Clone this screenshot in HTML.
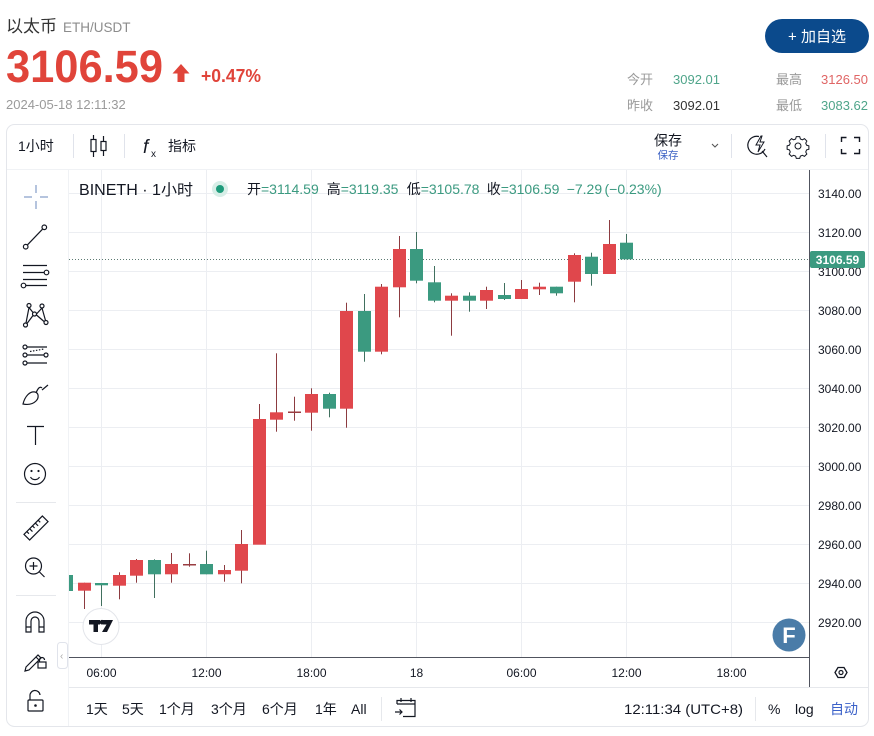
<!DOCTYPE html>
<html><head><meta charset="utf-8">
<style>
html,body{margin:0;padding:0;background:#fff;width:874px;height:736px;overflow:hidden}
svg{display:block}
text{font-family:"Liberation Sans","Noto Sans CJK SC",sans-serif}
</style></head>
<body>
<svg width="874" height="736" viewBox="0 0 874 736" xmlns="http://www.w3.org/2000/svg">
<defs>
<clipPath id="pane"><rect x="69" y="170" width="740" height="487"/></clipPath>
</defs>

<!-- Header -->
<text x="6" y="32" font-size="17" fill="#333">以太币</text>
<text x="63" y="32" font-size="13.5" fill="#8c8c8c">ETH/USDT</text>
<text x="6" y="82" font-size="45" font-weight="bold" fill="#e0443a" textLength="157" lengthAdjust="spacingAndGlyphs">3106.59</text>
<polygon points="172.5,73.5 181,64 189.5,73.5 184.5,73.5 184.5,82 177.5,82 177.5,73.5" fill="#e0443a"/>
<text x="201" y="82" font-size="18" font-weight="bold" fill="#e0443a" textLength="60" lengthAdjust="spacingAndGlyphs">+0.47%</text>
<text x="6" y="109" font-size="13" fill="#9a9a9a">2024-05-18 12:11:32</text>

<rect x="765" y="19" width="104" height="34" rx="17" fill="#0b4a8c"/>
<text x="817" y="41.5" font-size="15" fill="#fff" text-anchor="middle">+ 加自选</text>

<text x="627" y="84" font-size="13" fill="#9a9a9a">今开</text>
<text x="673" y="84" font-size="13" fill="#4fa58a" textLength="47" lengthAdjust="spacingAndGlyphs">3092.01</text>
<text x="776" y="84" font-size="13" fill="#9a9a9a">最高</text>
<text x="821" y="84" font-size="13" fill="#e06565" textLength="47" lengthAdjust="spacingAndGlyphs">3126.50</text>
<text x="627" y="110" font-size="13" fill="#9a9a9a">昨收</text>
<text x="673" y="110" font-size="13" fill="#333" textLength="47" lengthAdjust="spacingAndGlyphs">3092.01</text>
<text x="776" y="110" font-size="13" fill="#9a9a9a">最低</text>
<text x="821" y="110" font-size="13" fill="#4fa58a" textLength="47" lengthAdjust="spacingAndGlyphs">3083.62</text>

<!-- Container -->
<rect x="6.5" y="124.5" width="862" height="602" rx="8" fill="#fff" stroke="#e4e6eb"/>

<!-- Top toolbar -->
<text x="18" y="151" font-size="14" fill="#131722">1小时</text>
<line x1="73.5" y1="134" x2="73.5" y2="158" stroke="#e0e3eb"/>
<g stroke="#131722" fill="none" stroke-width="1.2">
  <line x1="93.5" y1="135" x2="93.5" y2="157"/>
  <rect x="91" y="139.5" width="5" height="12" fill="#fff"/>
  <line x1="103.5" y1="136" x2="103.5" y2="156"/>
  <rect x="101" y="141.5" width="5" height="9" fill="#fff"/>
</g>
<line x1="124.5" y1="134" x2="124.5" y2="158" stroke="#e0e3eb"/>
<text x="143" y="153" font-size="19" fill="#131722" font-style="italic" font-family="Liberation Serif, serif">f</text>
<text x="151" y="157" font-size="10" fill="#131722">x</text>
<text x="168" y="151" font-size="14" fill="#131722">指标</text>

<text x="668" y="145.5" font-size="14" fill="#131722" text-anchor="middle">保存</text>
<text x="668" y="158.5" font-size="10.5" fill="#3d62c4" text-anchor="middle">保存</text>
<polyline points="712,144 715,147 718,144" fill="none" stroke="#555" stroke-width="1.1"/>
<line x1="731.5" y1="134" x2="731.5" y2="158" stroke="#e0e3eb"/>
<g fill="none" stroke="#131722" stroke-width="1.2">
  <path d="M759,136.5 A9,9 0 1 0 765,149"/>
  <polygon points="761,136 756,145 760,145 758,152 764,142 760,142 762,136" stroke-width="1"/>
  <line x1="762" y1="151" x2="767" y2="157"/>
</g>
<g fill="none" stroke="#131722" stroke-width="1.2" transform="translate(798 146) scale(0.85) translate(-798 -146)">
  <path d="M796,135 h4 l0.8,2.7 l2.4,1 l2.4,-1.3 l2.8,2.8 l-1.3,2.4 l1,2.4 l2.7,0.8 v4 l-2.7,0.8 l-1,2.4 l1.3,2.4 l-2.8,2.8 l-2.4,-1.3 l-2.4,1 l-0.8,2.7 h-4 l-0.8,-2.7 l-2.4,-1 l-2.4,1.3 l-2.8,-2.8 l1.3,-2.4 l-1,-2.4 l-2.7,-0.8 v-4 l2.7,-0.8 l1,-2.4 l-1.3,-2.4 l2.8,-2.8 l2.4,1.3 l2.4,-1 z"/>
  <circle cx="798" cy="146" r="3.5"/>
</g>
<line x1="825.5" y1="134" x2="825.5" y2="158" stroke="#e0e3eb"/>
<g fill="none" stroke="#131722" stroke-width="1.4">
  <path d="M841.5,142 v-4.5 h5"/><path d="M854,137.5 h5.5 v4.5"/>
  <path d="M841.5,149 v4.5 h5"/><path d="M854,153.5 h5.5 v-4.5"/>
</g>

<!-- pane separators -->
<line x1="7" y1="169.5" x2="868" y2="169.5" stroke="#f0f2f5"/>
<line x1="68.5" y1="170" x2="68.5" y2="726" stroke="#f0f2f5"/>

<!-- Grid -->
<g stroke="#eceef2" stroke-width="1">
  <line x1="69" y1="193.5" x2="809" y2="193.5"/>
  <line x1="69" y1="232.5" x2="809" y2="232.5"/>
  <line x1="69" y1="271.5" x2="809" y2="271.5"/>
  <line x1="69" y1="310.5" x2="809" y2="310.5"/>
  <line x1="69" y1="349.5" x2="809" y2="349.5"/>
  <line x1="69" y1="388.5" x2="809" y2="388.5"/>
  <line x1="69" y1="427.5" x2="809" y2="427.5"/>
  <line x1="69" y1="466.5" x2="809" y2="466.5"/>
  <line x1="69" y1="505.5" x2="809" y2="505.5"/>
  <line x1="69" y1="544.5" x2="809" y2="544.5"/>
  <line x1="69" y1="583.5" x2="809" y2="583.5"/>
  <line x1="69" y1="622.5" x2="809" y2="622.5"/>
  <line x1="101.5" y1="170" x2="101.5" y2="657"/>
  <line x1="206.5" y1="170" x2="206.5" y2="657"/>
  <line x1="311.5" y1="170" x2="311.5" y2="657"/>
  <line x1="416.5" y1="170" x2="416.5" y2="657"/>
  <line x1="521.5" y1="170" x2="521.5" y2="657"/>
  <line x1="626.5" y1="170" x2="626.5" y2="657"/>
  <line x1="731.5" y1="170" x2="731.5" y2="657"/>
</g>

<!-- current price line -->
<line x1="69" y1="259.5" x2="809" y2="259.5" stroke="#5d7a72" stroke-dasharray="1,2"/>

<!-- Candles -->
<g clip-path="url(#pane)">
<g fill="#8c3b40">
  <rect x="84" y="582.7" width="1" height="26.3"/>
  <rect x="119" y="572.3" width="1" height="27"/>
  <rect x="136" y="559" width="1" height="23.7"/>
  <rect x="171" y="553" width="1" height="29.7"/>
  <rect x="189" y="553.3" width="1" height="13.4"/>
  <rect x="224" y="565" width="1" height="16.7"/>
  <rect x="241" y="530" width="1" height="53.3"/>
  <rect x="259" y="404" width="1" height="140"/>
  <rect x="276" y="353.3" width="1" height="78.4"/>
  <rect x="294" y="396.7" width="1" height="24"/>
  <rect x="311" y="388.3" width="1" height="42.4"/>
  <rect x="346" y="302.7" width="1" height="125"/>
  <rect x="381" y="284" width="1" height="70.3"/>
  <rect x="399" y="236" width="1" height="81.3"/>
  <rect x="451" y="293.3" width="1" height="42.4"/>
  <rect x="486" y="286.7" width="1" height="22.3"/>
  <rect x="521" y="280" width="1" height="19"/>
  <rect x="539" y="282.7" width="1" height="12.3"/>
  <rect x="574" y="253.3" width="1" height="49"/>
  <rect x="609" y="220" width="1" height="54"/>
</g>
<g fill="#41705f">
  <rect x="101" y="583" width="1" height="23"/>
  <rect x="154" y="559.3" width="1" height="38.7"/>
  <rect x="206" y="550.7" width="1" height="23.6"/>
  <rect x="329" y="392.7" width="1" height="24.6"/>
  <rect x="364" y="294" width="1" height="67.7"/>
  <rect x="416" y="232" width="1" height="51.3"/>
  <rect x="434" y="266" width="1" height="36.3"/>
  <rect x="469" y="292.3" width="1" height="19.4"/>
  <rect x="504" y="283" width="1" height="17"/>
  <rect x="556" y="286.7" width="1" height="9"/>
  <rect x="591" y="252.7" width="1" height="33"/>
  <rect x="626" y="234" width="1" height="25.3"/>
</g>
<g fill="#e0474c">
  <rect x="78" y="582.7" width="13" height="8"/>
  <rect x="113" y="575" width="13" height="10.7"/>
  <rect x="130" y="560" width="13" height="15.7"/>
  <rect x="165" y="564" width="13" height="10.3"/>
  <rect x="183" y="564" width="13" height="1.5" fill="#9a3d42"/>
  <rect x="218" y="570" width="13" height="4.3"/>
  <rect x="235" y="544" width="13" height="26.7"/>
  <rect x="253" y="419" width="13" height="125.7"/>
  <rect x="270" y="412.3" width="13" height="7.4"/>
  <rect x="288" y="411.5" width="13" height="1.5" fill="#9a3d42"/>
  <rect x="305" y="394" width="13" height="18.7"/>
  <rect x="340" y="311" width="13" height="97.7"/>
  <rect x="375" y="286.7" width="13" height="65"/>
  <rect x="393" y="249" width="13" height="38.3"/>
  <rect x="445" y="295.7" width="13" height="5"/>
  <rect x="480" y="290" width="13" height="10.7"/>
  <rect x="515" y="289" width="13" height="10"/>
  <rect x="533" y="286.7" width="13" height="2.6"/>
  <rect x="568" y="255" width="13" height="26.7"/>
  <rect x="603" y="244" width="13" height="30"/>
</g>
<g fill="#3b9a80">
  <rect x="60" y="575" width="13" height="16"/>
  <rect x="95" y="583" width="13" height="2.3"/>
  <rect x="148" y="560" width="13" height="14.3"/>
  <rect x="200" y="564" width="13" height="10.3"/>
  <rect x="323" y="394" width="13" height="14.7"/>
  <rect x="358" y="311" width="13" height="40.7"/>
  <rect x="410" y="249" width="13" height="31.7"/>
  <rect x="428" y="282.3" width="13" height="18.4"/>
  <rect x="463" y="295.7" width="13" height="5"/>
  <rect x="498" y="295" width="13" height="4"/>
  <rect x="550" y="286.7" width="13" height="6.6"/>
  <rect x="585" y="256.7" width="13" height="17.3"/>
  <rect x="620" y="242.7" width="13" height="16.6"/>
</g>
</g>

<!-- Legend -->
<text x="79" y="195" font-size="15.5" fill="#131722" textLength="114" lengthAdjust="spacingAndGlyphs">BINETH · 1小时</text>
<circle cx="220" cy="189" r="8" fill="#d7eee7"/>
<circle cx="220" cy="189" r="4" fill="#1e9b7b"/>
<text y="194" font-size="14" fill="#131722">
  <tspan x="247">开</tspan><tspan x="261" fill="#3b9a80">=3114.59</tspan>
  <tspan x="326.7">高</tspan><tspan x="340.7" fill="#3b9a80">=3119.35</tspan>
  <tspan x="406.7">低</tspan><tspan x="420.7" fill="#3b9a80">=3105.78</tspan>
  <tspan x="486.7">收</tspan><tspan x="500.7" fill="#3b9a80">=3106.59</tspan>
  <tspan x="566.7" fill="#3b9a80">−7.29</tspan><tspan x="604.5" fill="#3b9a80">(−0.23%)</tspan>
</text>

<!-- Logos -->
<circle cx="101" cy="626.5" r="18" fill="#fff" stroke="#e3e5ea"/>
<g fill="#131722">
  <rect x="89" y="620" width="11" height="4.5"/>
  <rect x="93.5" y="620" width="4.5" height="12"/>
  <polygon points="103,620 113,620 107,632 102,632 106.5,624.5 103,624.5"/>
  <circle cx="102" cy="622.2" r="2.3"/>
</g>
<circle cx="789" cy="635" r="16.5" fill="#4a7ca8"/>
<text x="789" y="643" font-size="22" font-weight="bold" fill="#fff" text-anchor="middle">F</text>

<!-- Price axis -->
<line x1="809.5" y1="170" x2="809.5" y2="687" stroke="#50535e"/>
<g font-size="12" fill="#131722">
  <text x="818" y="198">3140.00</text>
  <text x="818" y="237">3120.00</text>
  <text x="818" y="276">3100.00</text>
  <text x="818" y="315">3080.00</text>
  <text x="818" y="354">3060.00</text>
  <text x="818" y="393">3040.00</text>
  <text x="818" y="432">3020.00</text>
  <text x="818" y="471">3000.00</text>
  <text x="818" y="510">2980.00</text>
  <text x="818" y="549">2960.00</text>
  <text x="818" y="588">2940.00</text>
  <text x="818" y="627">2920.00</text>
</g>
<rect x="810" y="251" width="55" height="17" rx="2" fill="#3b9a80"/>
<text x="837.5" y="264" font-size="12" font-weight="bold" fill="#fff" text-anchor="middle">3106.59</text>

<!-- Time axis -->
<line x1="69" y1="657.5" x2="809" y2="657.5" stroke="#50535e"/>
<g font-size="12" fill="#131722" text-anchor="middle">
  <text x="101.5" y="677">06:00</text>
  <text x="206.5" y="677">12:00</text>
  <text x="311.5" y="677">18:00</text>
  <text x="416.5" y="677">18</text>
  <text x="521.5" y="677">06:00</text>
  <text x="626.5" y="677">12:00</text>
  <text x="731.5" y="677">18:00</text>
</g>
<polygon points="835,672.5 838,667.5 844,667.5 847,672.5 844,677.5 838,677.5" fill="none" stroke="#131722" stroke-width="1.3"/>
<circle cx="841" cy="672.5" r="2" fill="none" stroke="#131722" stroke-width="1.2"/>
<line x1="69" y1="687.5" x2="868" y2="687.5" stroke="#e6e8ec"/>

<!-- collapse tab -->
<rect x="57.5" y="642.5" width="10" height="26" rx="3" fill="#fff" stroke="#e0e3eb"/>
<text x="60" y="659" font-size="10" fill="#aaa">‹</text>

<!-- Bottom bar -->
<g font-size="14" fill="#131722">
  <text x="86" y="714">1天</text>
  <text x="122" y="714">5天</text>
  <text x="159" y="714">1个月</text>
  <text x="211" y="714">3个月</text>
  <text x="262" y="714">6个月</text>
  <text x="315" y="714">1年</text>
  <text x="351" y="714">All</text>
  <text x="624" y="714" textLength="119" lengthAdjust="spacingAndGlyphs">12:11:34 (UTC+8)</text>
  <text x="768" y="714">%</text>
  <text x="795" y="714">log</text>
  <text x="830" y="714" fill="#3c62c9">自动</text>
</g>
<line x1="381.5" y1="697" x2="381.5" y2="721" stroke="#e6e8ec"/>
<line x1="755.5" y1="697" x2="755.5" y2="721" stroke="#e6e8ec"/>
<g fill="none" stroke="#131722" stroke-width="1.2">
  <path d="M397,704 v-3.5 h18 v16 h-12"/>
  <line x1="397" y1="704" x2="415" y2="704"/>
  <line x1="401" y1="698" x2="401" y2="702"/>
  <line x1="411" y1="698" x2="411" y2="702"/>
  <path d="M395,712 h7 M399.5,709.5 l2.5,2.5 l-2.5,2.5"/>
</g>

<!-- Left toolbar -->
<g stroke="#9cb0d2" stroke-width="1.5">
  <line x1="24" y1="197" x2="32" y2="197"/><line x1="40" y1="197" x2="48" y2="197"/>
  <line x1="36" y1="185" x2="36" y2="193"/><line x1="36" y1="201" x2="36" y2="209"/>
</g>
<g fill="none" stroke="#131722" stroke-width="1.2">
  <line x1="27.5" y1="244.8" x2="42.5" y2="229.2"/>
  <circle cx="25.7" cy="246.7" r="2.3"/><circle cx="44.3" cy="227.3" r="2.3"/>
  <line x1="23" y1="265.5" x2="47" y2="265.5"/>
  <line x1="23" y1="272.5" x2="44" y2="272.5"/><circle cx="46.5" cy="272.5" r="2.3"/>
  <line x1="23" y1="279.5" x2="47" y2="279.5"/>
  <line x1="26" y1="285.5" x2="47" y2="285.5"/><circle cx="23.5" cy="285.5" r="2.3"/>
  <circle cx="29" cy="305.5" r="2"/><circle cx="42" cy="306" r="2"/><circle cx="34.5" cy="314" r="2"/>
  <circle cx="25.5" cy="325" r="2"/><circle cx="46" cy="322.5" r="2"/>
  <path d="M29,307.5 L26,323 M29,307.5 L33,312.5 M36.5,314 L42,308 M42,308 L45.5,320.5 M36.5,315 L44,321.5 M33,315.5 L27,323.5"/>
  <circle cx="25" cy="347" r="2"/><line x1="27" y1="347" x2="47" y2="347"/>
  <circle cx="25" cy="355" r="2"/><line x1="27" y1="355" x2="44" y2="355"/><circle cx="46" cy="355" r="2"/>
  <circle cx="25" cy="363" r="2"/><line x1="27" y1="363" x2="47" y2="363"/>
  <line x1="30" y1="351.5" x2="44" y2="349" stroke-dasharray="1.5,1.5"/>
  <path d="M23,404 C25,396 30,391 35,392 C39,393 39,398 36,401 C33,404 28,405 23,404 Z"/>
  <path d="M36,393 C38,388 40,386 42,388 M42,390 L48,385"/>
  <line x1="27" y1="426.5" x2="44" y2="426.5"/><line x1="35.5" y1="426.5" x2="35.5" y2="445"/>
  <circle cx="35" cy="474" r="10.5"/>
  <path d="M30.5,477 C32.5,480.5 37.5,480.5 39.5,477"/>
</g>
<circle cx="31.5" cy="471" r="1.1" fill="#131722"/><circle cx="38.5" cy="471" r="1.1" fill="#131722"/>
<line x1="16" y1="502.5" x2="56" y2="502.5" stroke="#e6e8ec"/>
<g fill="none" stroke="#131722" stroke-width="1.2">
  <g transform="rotate(-45 36 528)">
    <rect x="23" y="524" width="26" height="8"/>
    <path d="M27,524 v3 M31,524 v4 M35,524 v3 M39,524 v4 M43,524 v3"/>
  </g>
  <circle cx="33.5" cy="566" r="8"/>
  <path d="M29.5,566 h8 M33.5,562 v8 M39.5,572 l5,5"/>
</g>
<line x1="16" y1="595.5" x2="56" y2="595.5" stroke="#e6e8ec"/>
<g fill="none" stroke="#131722" stroke-width="1.2">
  <path d="M26,632 v-11 a9,9 0 0 1 18,0 v11 h-5 v-11 a4,4 0 0 0 -8,0 v11 z"/>
  <path d="M26,627 h5 M39,627 h5"/>
  <path d="M26,667 l12,-12 l3,3 l-12,12 l-4,1 z M36,657 l3,3"/>
  <rect x="38" y="662" width="8" height="6"/>
  <path d="M39.5,662 v-2 a2.5,2.5 0 0 1 5,0"/>
  <rect x="28" y="700" width="15" height="11" rx="1"/>
  <path d="M30,700 v-4 a5,5 0 0 1 10,-1"/>
</g>
<circle cx="35.5" cy="705.5" r="1.3" fill="#131722"/>
</svg>
</body></html>
